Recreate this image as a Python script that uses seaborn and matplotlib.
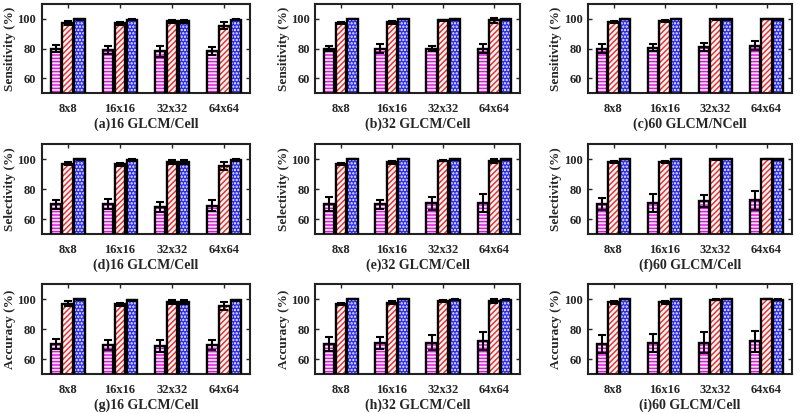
import numpy as np
import pandas as pd
import matplotlib
matplotlib.use("Agg")
import matplotlib.pyplot as plt
from matplotlib.patches import Rectangle
import seaborn as sns

sns.set_style("white")
plt.rcParams["font.family"] = ["Liberation Serif", "DejaVu Serif"]
plt.rcParams["font.weight"] = "bold"
plt.rcParams["axes.labelweight"] = "bold"
plt.rcParams["hatch.linewidth"] = 1.1

sizes = ["8x8", "16x16", "32x32", "64x64"]
methods = ["m1", "m2", "m3"]

# mean values per panel: rows = method, cols = cell size
sens_16 = [[80, 79, 78, 78.3], [97.3, 97, 98.4, 95.5], [99.8, 99.5, 98.4, 99.5]]
sens_16_err = [[2.2, 2.5, 3.5, 2.5], [1.5, 1, 1, 2.5], [0.3, 0.3, 1.2, 0.3]]
sens_32 = [[80, 80, 80, 80], [97, 97.8, 99, 99], [100, 100, 99.8, 99.7]]
sens_32_err = [[2, 3, 2, 3], [0.7, 1, 0.5, 1.5], [0.2, 0.2, 0.2, 0.2]]
sens_60 = [[80, 80.5, 81, 82], [97.8, 98.4, 99.8, 100], [100, 100, 99.8, 99.7]]
sens_60_err = [[3, 2.5, 3, 3], [0.5, 0.8, 0.2, 0.2], [0.2, 0.2, 0.2, 0.2]]

sel_16 = [[70, 70, 68, 69], [96.9, 96.7, 98, 95.3], [99.9, 99.3, 98, 99.3]]
sel_16_err = [[3, 3.5, 3.5, 3.5], [1, 1, 1.2, 2.5], [0.3, 0.5, 1.5, 0.5]]
sel_32 = [[70, 70, 70.5, 70.5], [96.7, 97.8, 99, 98.8], [100, 100, 99.8, 99.8]]
sel_32_err = [[4.5, 3, 4.5, 6], [0.8, 0.8, 0.5, 1.5], [0.2, 0.2, 0.2, 0.2]]
sel_60 = [[70, 71, 72, 72.5], [97.8, 97.8, 99.8, 100], [100, 100, 100, 99.8]]
sel_60_err = [[4, 6, 4, 6.5], [0.7, 0.7, 0.2, 0.2], [0.2, 0.2, 0.2, 0.2]]

acc_16 = [[70, 69.5, 68.5, 69.5], [97, 96.7, 98, 95.3], [100, 99.2, 98, 99.2]]
acc_16_err = [[3.5, 3.5, 4, 3.5], [1.5, 1, 1.5, 2.5], [0.3, 0.3, 1.5, 0.5]]
acc_32 = [[70, 71, 71, 72], [96.7, 97.6, 98.7, 98.7], [100, 100, 99.6, 99.6]]
acc_32_err = [[4.5, 4, 5, 6], [0.8, 1, 0.5, 1.5], [0.2, 0.2, 0.2, 0.2]]
acc_60 = [[70, 71, 71, 72], [97.8, 97.8, 99.6, 100], [100, 100, 100, 99.6]]
acc_60_err = [[6, 6, 7, 7], [0.7, 0.8, 0.2, 0.2], [0.2, 0.2, 0.2, 0.2]]

panels = [
    (sens_16, sens_16_err, "Sensitivity (%)", "(a)16 GLCM/Cell"),
    (sens_32, sens_32_err, "Sensitivity (%)", "(b)32 GLCM/Cell"),
    (sens_60, sens_60_err, "Sensitivity (%)", "(c)60 GLCM/NCell"),
    (sel_16, sel_16_err, "Selectivity (%)", "(d)16 GLCM/Cell"),
    (sel_32, sel_32_err, "Selectivity (%)", "(e)32 GLCM/Cell"),
    (sel_60, sel_60_err, "Selectivity (%)", "(f)60 GLCM/Cell"),
    (acc_16, acc_16_err, "Accuracy (%)", "(g)16 GLCM/Cell"),
    (acc_32, acc_32_err, "Accuracy (%)", "(h)32 GLCM/Cell"),
    (acc_60, acc_60_err, "Accuracy (%)", "(i)60 GLCM/Cell"),
]

# (face, hatch colour, hatch) per method
styles = [("white", "#ff00ff", "-----"),
          ("white", "#ff2828", "//////"),
          ("#2a2aff", "white", ".....")]

# axes boxes in figure fractions
col_x = [(0.052, 0.261), (0.394, 0.256), (0.735, 0.255)]
row_y = [(0.775, 0.215), (0.433, 0.218), (0.094, 0.218)]

fig = plt.figure(figsize=(8, 4.13), dpi=100)

for k, (vals, errs, ylab, xlab) in enumerate(panels):
    r, c = divmod(k, 3)
    ax = fig.add_axes([col_x[c][0], row_y[r][0], col_x[c][1], row_y[r][1]])
    df = pd.DataFrame({
        "size": np.tile(sizes, 3),
        "method": np.repeat(methods, 4),
        "value": np.ravel(vals),
    })
    sns.barplot(data=df, x="size", y="value", hue="method", order=sizes,
                hue_order=methods, errorbar=None, width=0.68, gap=0.12,
                palette=["white"] * 3, legend=False, ax=ax)
    bar_sets = list(ax.containers)
    for i, cont in enumerate(bar_sets):
        face, hcol, hatch = styles[i]
        xs, ys = [], []
        for p in cont.patches:
            p.set_facecolor(face)
            p.set_edgecolor(hcol)
            p.set_hatch(hatch)
            p.set_linewidth(0)
            ax.add_patch(Rectangle(p.get_xy(), p.get_width(), p.get_height(),
                                   fill=False, edgecolor="black", lw=1.7, zorder=3))
            xs.append(p.get_x() + p.get_width() / 2)
            ys.append(p.get_height())
        ax.errorbar(xs, ys, yerr=errs[i], fmt="none", ecolor="black",
                    elinewidth=1.5, capsize=3, capthick=1.5, zorder=4)
    ax.set_ylim(50, 110)
    ax.set_xlim(-0.5, 3.5)
    ax.set_yticks([60, 80, 100])
    ax.set_ylabel(ylab, fontsize=9.5, labelpad=1)
    ax.set_xlabel(xlab, fontsize=10, labelpad=2)
    ax.tick_params(direction="in", length=3, width=1, labelsize=9,
                   top=True, right=True, bottom=True, left=True)
    ax.tick_params(axis="x", pad=7)
    ax.tick_params(axis="y", pad=4)
    for lab in ax.get_xticklabels() + ax.get_yticklabels():
        lab.set_fontweight("bold")
    for s in ax.spines.values():
        s.set_linewidth(1.5)
        s.set_color("#222222")

fig.savefig("out.png", dpi=100)
